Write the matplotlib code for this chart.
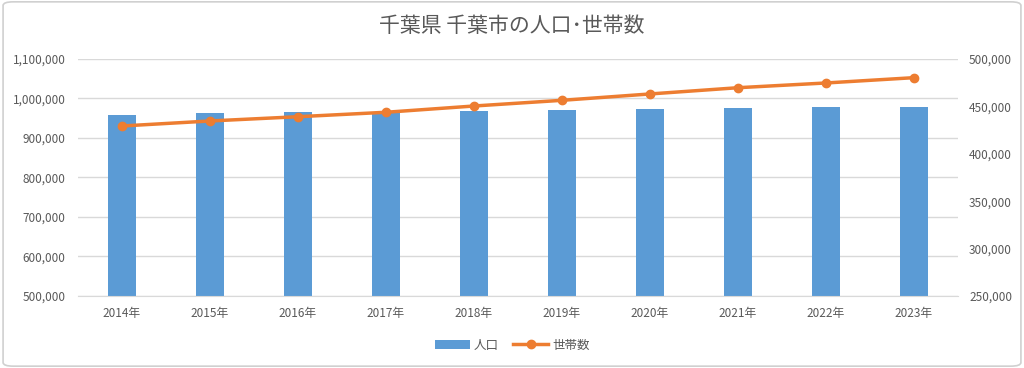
import matplotlib
matplotlib.use("Agg")
import matplotlib.pyplot as plt
from matplotlib.patches import FancyBboxPatch
from matplotlib.ticker import FuncFormatter, MultipleLocator

plt.rcParams['font.family'] = ['Noto Sans CJK JP', 'DejaVu Sans']

years = ["2014年", "2015年", "2016年", "2017年", "2018年", "2019年", "2020年", "2021年", "2022年", "2023年"]
population = [959000, 962500, 965800, 966600, 968400, 970900, 973400, 975900, 977700, 977200]
households = [429300, 434600, 439100, 443800, 450400, 456400, 463100, 469700, 474700, 480300]

title = "千葉県 千葉市の人口･世帯数"
label_pop = "人口"
label_hh = "世帯数"

bar_color = "#5b9bd5"
line_color = "#ed7d31"
text_color = "#595959"
grid_color = "#d9d9d9"

fig = plt.figure(figsize=(10.24, 3.68), dpi=100)
border = FancyBboxPatch((0.003, 0.005), 0.994, 0.99, boxstyle="round,pad=0,rounding_size=0.01",
                        transform=fig.transFigure, fill=False, edgecolor="#d0d0d0", linewidth=1.2)
fig.patches.append(border)

ax = fig.add_axes([0.076, 0.1957, 0.8595, 0.644])
x = list(range(len(years)))
bars = ax.bar(x, population, width=0.32, color=bar_color, zorder=2, label=label_pop)
ax.set_ylim(500000, 1100000)
ax.yaxis.set_major_locator(MultipleLocator(100000))
ax.yaxis.set_major_formatter(FuncFormatter(lambda v, p: f"{int(v):,}"))
ax.set_xlim(-0.5, len(years) - 0.5)
ax.set_xticks(x)
ax.set_xticklabels(years)
ax.grid(axis='y', color=grid_color, linewidth=1, zorder=0)
for s in ['top', 'right', 'left']:
    ax.spines[s].set_visible(False)
ax.spines['bottom'].set_color(grid_color)
ax.tick_params(axis='both', length=0, colors=text_color, labelsize=8.5)
ax.tick_params(axis='y', pad=9)
ax.tick_params(axis='x', pad=8)

ax2 = ax.twinx()
line, = ax2.plot(x, households, color=line_color, linewidth=2.5, marker='o', markersize=6,
                 zorder=3, label=label_hh)
ax2.set_ylim(250000, 500000)
ax2.yaxis.set_major_locator(MultipleLocator(50000))
ax2.yaxis.set_major_formatter(FuncFormatter(lambda v, p: f"{int(v):,}"))
for s in ['top', 'right', 'left', 'bottom']:
    ax2.spines[s].set_visible(False)
ax2.tick_params(axis='y', length=0, colors=text_color, labelsize=8.5, pad=8)

fig.text(0.5, 0.93, title, ha='center', va='center', fontsize=15, color=text_color)

leg = fig.legend([bars, line], [label_pop, label_hh], loc='center', bbox_to_anchor=(0.5, 0.062),
                 ncol=2, frameon=False, fontsize=9, labelcolor=text_color,
                 handlelength=2.8, columnspacing=1.2, handletextpad=0.3)

fig.savefig("out.png", dpi=100)
